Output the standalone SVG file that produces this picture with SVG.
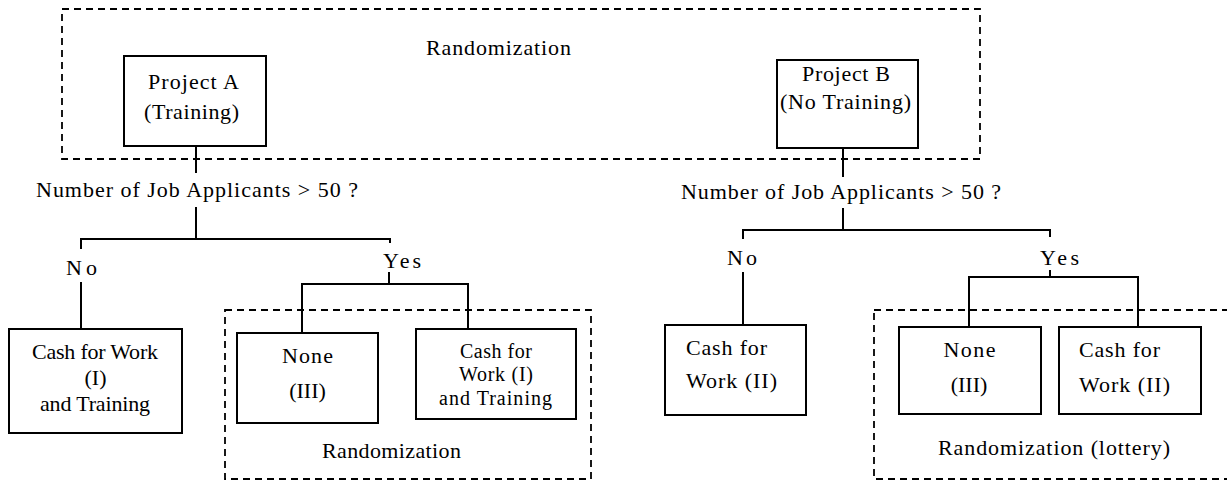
<svg xmlns="http://www.w3.org/2000/svg" width="1227" height="481" viewBox="0 0 1227 481">
<style>
text{font-family:Liberation Serif,Tinos,Times New Roman,DejaVu Serif,Noto Serif,serif;font-size:22px;fill:#000}
.s{font-size:20px}
.m{text-anchor:middle}
.box{fill:#fff;stroke:#000;stroke-width:2}
.dash{fill:none;stroke:#000;stroke-width:1.8;stroke-dasharray:7 5}
.ln{fill:none;stroke:#000;stroke-width:2}
</style>
<rect width="1227" height="481" fill="#fff"/>
<g id="containers">
<g id="randomization-top"><rect class="dash" x="62" y="9" width="918" height="150"/><text class="m" x="498.5" y="55" textLength="145" lengthAdjust="spacing">Randomization</text></g>
<g id="randomization-left"><rect class="dash" x="225" y="310" width="366" height="169"/><text class="m" x="391.5" y="458" textLength="139" lengthAdjust="spacing">Randomization</text></g>
<g id="randomization-right"><rect class="dash" x="874" y="310" width="370" height="169"/><text class="m" x="1054" y="455" textLength="232" lengthAdjust="spacing">Randomization (lottery)</text></g>
</g>
<g id="connectors">
<path class="ln" d="M196 146V173M196 207V239M81 249V239H390V243M81 282V329M389 272V284M302 333V284H468V329"/>
<path class="ln" d="M843 146V177M843 208V230M743 239V230H1050V237M743 272V325M1050 270V277M969 327V277H1138V327"/>
<text x="36" y="197" textLength="322" lengthAdjust="spacing">Number of Job Applicants &gt; 50 ?</text>
<text x="681" y="199" textLength="320" lengthAdjust="spacing">Number of Job Applicants &gt; 50 ?</text>
<text x="66" y="275" textLength="31" lengthAdjust="spacing">No</text>
<text x="383" y="268" textLength="38" lengthAdjust="spacing">Yes</text>
<text x="727" y="265" textLength="30" lengthAdjust="spacing">No</text>
<text x="1040" y="265" textLength="39" lengthAdjust="spacing">Yes</text>
</g>
<g id="project-a"><rect class="box" x="124" y="56" width="142" height="90"/><text class="m" x="193.5" y="89" textLength="91" lengthAdjust="spacing">Project A</text><text class="m" x="191.5" y="119" textLength="95" lengthAdjust="spacing">(Training)</text></g>
<g id="project-b"><rect class="box" x="777" y="60" width="141" height="88"/><text class="m" x="846" y="81" textLength="88" lengthAdjust="spacing">Project B</text><text class="m" x="845.5" y="109" textLength="131" lengthAdjust="spacing">(No Training)</text></g>
<g id="a-no-cash"><rect class="box" x="9" y="329" width="173" height="104"/><text class="m" x="95" y="359" textLength="126" lengthAdjust="spacing">Cash for Work</text><text class="m" x="95.5" y="385">(I)</text><text class="m" x="95" y="411" textLength="110" lengthAdjust="spacing">and Training</text></g>
<g id="a-yes-none"><rect class="box" x="237" y="333" width="141" height="90"/><text class="m" x="307.5" y="363" textLength="51" lengthAdjust="spacing">None</text><text class="m" x="307.5" y="398">(III)</text></g>
<g id="a-yes-cash"><rect class="box" x="416" y="329" width="160" height="90"/><text class="s m" x="496" y="358" textLength="72" lengthAdjust="spacing">Cash for</text><text class="s m" x="496" y="381" textLength="74" lengthAdjust="spacing">Work (I)</text><text class="s m" x="495.5" y="405" textLength="113" lengthAdjust="spacing">and Training</text></g>
<g id="b-no-cash"><rect class="box" x="665" y="325" width="141" height="90"/><text x="686" y="355" textLength="81" lengthAdjust="spacing">Cash for</text><text x="686" y="388" textLength="91" lengthAdjust="spacing">Work (II)</text></g>
<g id="b-yes-none"><rect class="box" x="899" y="327" width="142" height="87"/><text class="m" x="969.5" y="357" textLength="52" lengthAdjust="spacing">None</text><text class="m" x="969" y="392">(III)</text></g>
<g id="b-yes-cash"><rect class="box" x="1059" y="327" width="142" height="87"/><text x="1079" y="357" textLength="81" lengthAdjust="spacing">Cash for</text><text x="1079" y="392" textLength="91" lengthAdjust="spacing">Work (II)</text></g>
</svg>
